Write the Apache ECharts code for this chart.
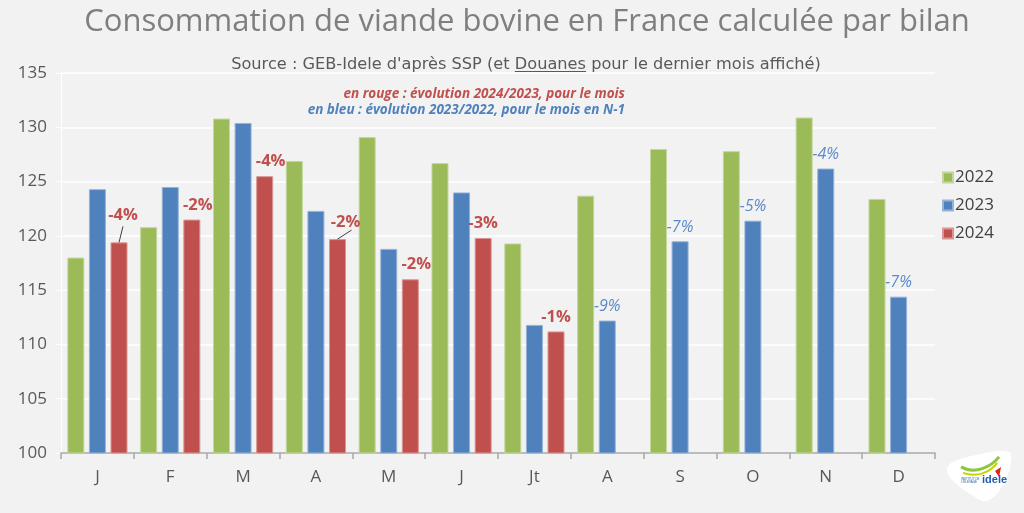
<!DOCTYPE html>
<html>
<head>
<meta charset="utf-8">
<script src="https://cdn.jsdelivr.net/npm/echarts@6/dist/echarts.min.js"></script>
<style>
html,body{margin:0;padding:0;background:#F2F2F2;}
#c{width:1024px;height:513px;}
</style>
</head>
<body>
<div id="c"></div>
<script>
const months = ['J','F','M','A','M','J','Jt','A','S','O','N','D'];
const yTicks = [100,105,110,115,120,125,130,135];
const years = ['2022','2023','2024'];
const v2022 = [118.0,120.8,130.8,126.9,129.1,126.7,119.3,123.7,128.0,127.8,130.9,123.4];
const v2023 = [124.3,124.5,130.4,122.3,118.8,124.0,111.8,112.2,119.5,121.4,126.2,114.4];
const v2024 = [119.4,121.5,125.5,119.7,116.0,119.8,111.2,null,null,null,null,null];
const pct2024 = ['-4%','-2%','-4%','-2%','-2%','-3%','-1%','','','','',''];
const pct2023 = ['','','','','','','','-9%','-7%','-5%','-4%','-7%'];
const titleText = 'Consommation de viande bovine en France calculée par bilan';
const subPre = 'Source : GEB-Idele d\'après SSP (et ';
const subU = 'Douanes';
const subPost = ' pour le dernier mois affiché)';
const noteRed = 'en rouge : évolution 2024/2023, pour le mois';
const noteBlue = 'en bleu : évolution 2023/2022, pour le mois en N-1';

const FONT = "'Open Sans', sans-serif";
const SUBFONT = "'DejaVu Sans', sans-serif";
const SUBSIZE = 16.2;
const colors = ['#9BBB59','#4F81BD','#C0504D'];
const borders = ['#C3D69B','#95B3D7','#D99694'];

const chart = echarts.init(document.getElementById('c'), null, {renderer:'canvas'});

// label layout tweaks (positions only)
const redShift = {0:[4,-13],1:[6,0],2:[6,0],3:[8,-2],4:[6,0]};

const option = {
  backgroundColor:'#F2F2F2',
  animation:false,
  title:[
    {text:titleText,left:522,textAlign:'center',top:2,textStyle:{fontFamily:FONT,fontSize:31,fontWeight:'normal',color:'#7F7F7F'}},
    {text:subPre+'{u|'+subU+'}'+subPost,left:521,textAlign:'center',top:52,
     textStyle:{fontFamily:SUBFONT,fontSize:SUBSIZE,fontWeight:'normal',color:'#595959',rich:{u:{fontFamily:SUBFONT,fontSize:SUBSIZE,color:'#595959'}}}},
    {text:noteRed,right:394,top:82,textStyle:{fontFamily:FONT,fontSize:13.5,fontWeight:'bold',fontStyle:'italic',color:'#C0504D'}},
    {text:noteBlue,right:394,top:98,textStyle:{fontFamily:FONT,fontSize:13.5,fontWeight:'bold',fontStyle:'italic',color:'#4F81BD'}}
  ],
  legend:{
    orient:'vertical',left:937,top:164,itemWidth:10,itemHeight:10,itemGap:11,
    data:years,
    icon:'rect',
    textStyle:{fontFamily:FONT,fontSize:17,color:'#404040',padding:[0,0,0,-3]}
  },
  grid:{left:61,right:89,top:73,bottom:60,containLabel:false},
  xAxis:{
    type:'category',data:months,boundaryGap:true,
    axisLine:{show:true,lineStyle:{color:'#A6A6A6',width:1.5}},
    axisTick:{show:true,alignWithLabel:false,length:6,lineStyle:{color:'#A6A6A6',width:1.5}},
    axisLabel:{fontFamily:FONT,fontSize:17,color:'#595959',margin:16},
    splitLine:{show:false}
  },
  yAxis:{
    type:'value',min:100,max:135,interval:5,
    axisLine:{show:true,lineStyle:{color:'#FFFFFF',width:1}},
    axisTick:{show:true,length:5,lineStyle:{color:'#FFFFFF'}},
    axisLabel:{fontFamily:FONT,fontSize:17,color:'#595959',margin:14,
      formatter:function(v){return yTicks.indexOf(v)>=0?String(v):'';}},
    splitLine:{show:true,lineStyle:{color:'#FFFFFF',width:1.5}}
  },
  series:[
    {name:years[0],type:'bar',data:v2022,barWidth:17,barGap:'27%',
     itemStyle:{color:colors[0],borderColor:borders[0],borderWidth:1}},
    {name:years[1],type:'bar',data:v2023,barWidth:17,barGap:'27%',
     itemStyle:{color:colors[1],borderColor:borders[1],borderWidth:1},
     label:{show:true,position:'top',distance:6,fontFamily:FONT,fontSize:16,fontStyle:'italic',color:'#5A8AC8',
       formatter:function(p){return pct2023[p.dataIndex];}}},
    {name:years[2],type:'bar',data:v2024,barWidth:17,barGap:'27%',
     itemStyle:{color:colors[2],borderColor:borders[2],borderWidth:1},
     label:{show:true,position:'top',distance:6,fontFamily:FONT,fontSize:16.5,fontWeight:'bold',color:'#C0504D',
       formatter:function(p){return pct2024[p.dataIndex];}},
     labelLayout:function(p){
       const s = redShift[p.dataIndex];
       return s?{dx:s[0],dy:s[1]}:{};
     }}
  ]
};
chart.setOption(option);

const graphics = [];
// leader lines for J and A red labels, anchored on bar layout from the axis scales
[0,3].forEach(function(i){
  const m = chart.getModel().getSeriesByIndex(2).getData().getItemLayout(i);
  const topX = m.x + m.width/2, topY = m.y + m.height;
  const s = redShift[i];
  graphics.push({type:'line',shape:{x1:topX, y1:topY, x2:topX+s[0]+(i===0?0:6), y2:topY+s[1]-(i===0?3:7)},
    style:{stroke:'#404040',lineWidth:1},z:10});
});
// underline "Douanes" (measured from the rendered font)
(function(){
  const ctx = document.createElement('canvas').getContext('2d');
  ctx.font = SUBSIZE + "px 'DejaVu Sans'";
  const wPre = ctx.measureText(subPre).width;
  const wU = ctx.measureText(subU).width;
  const wAll = ctx.measureText(subPre+subU+subPost).width;
  const x0 = 521 - wAll/2 + wPre + 5;
  graphics.push({type:'line',shape:{x1:x0,y1:71.5,x2:x0+wU,y2:71.5},style:{stroke:'#595959',lineWidth:1}});
})();
// logo
graphics.push({type:'group',left:947,top:451,children:[
  {type:'polygon',shape:{points:[[6,12],[36,3],[64,1],[66,10],[58,34],[42,50],[30,46],[8,30],[2,20]],smooth:0.4},style:{fill:'#FFFFFF'}},
  {type:'bezierCurve',shape:{x1:16,y1:16,x2:54,y2:6,cpx1:30,cpy1:24,cpx2:46,cpy2:16},style:{stroke:'#8DC63F',lineWidth:3,fill:null}},
  {type:'bezierCurve',shape:{x1:18,y1:22,x2:52,y2:12,cpx1:32,cpy1:27,cpx2:46,cpy2:21},style:{stroke:'#C8D400',lineWidth:2,fill:null}},
  {type:'polygon',shape:{points:[[50,20],[56,16],[54,26]]},style:{fill:'#E2231A'}},
  {type:'text',style:{text:'idele',x:37,y:24,font:'bold 11px sans-serif',fill:'#1F5FA8'}},
  {type:'text',style:{text:'INSTITUT DE\nL\'ÉLEVAGE',x:16,y:27,font:'3px sans-serif',fill:'#1F5FA8'}}
]});
chart.setOption({graphic:graphics});
</script>
</body>
</html>
